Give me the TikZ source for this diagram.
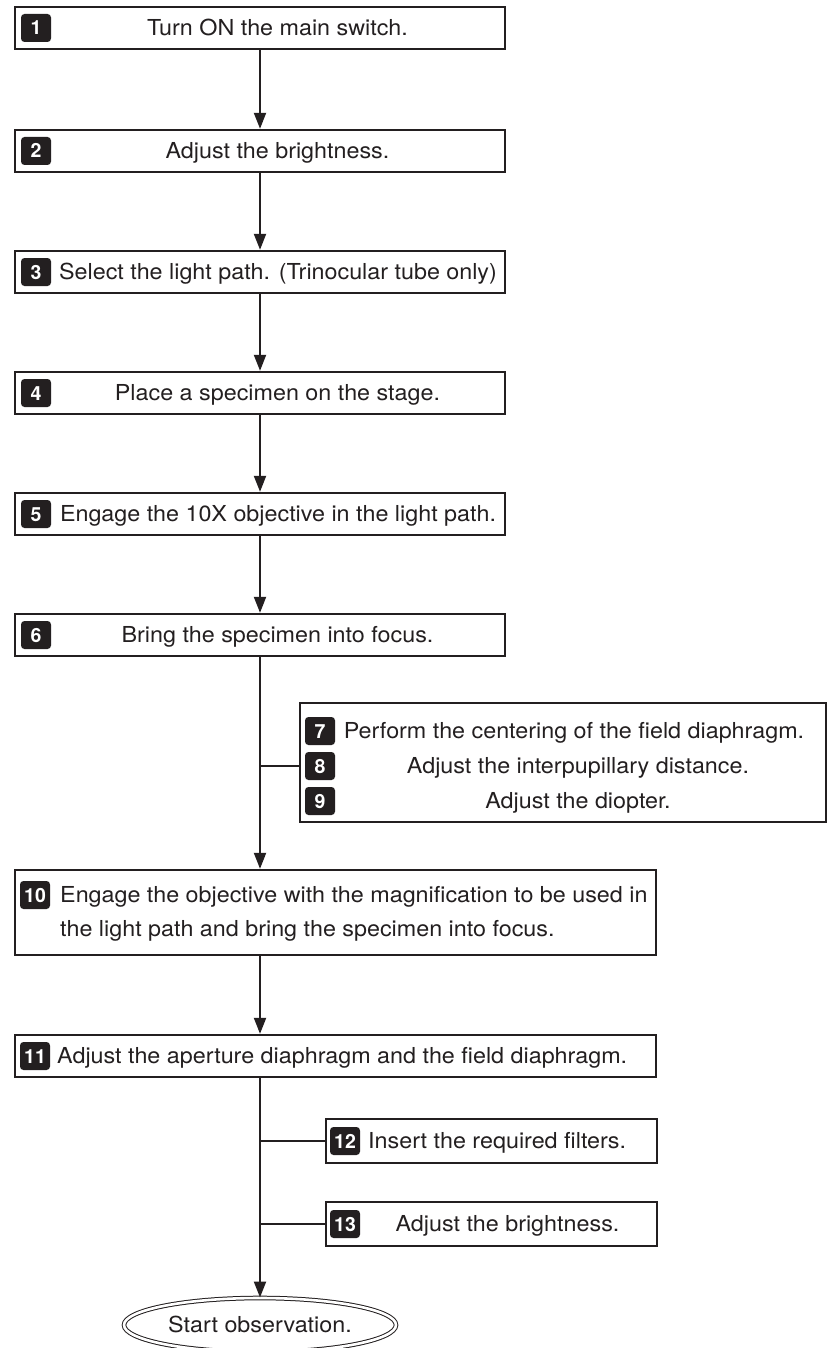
\documentclass[tikz,border=0pt]{standalone}
\usepackage{fontspec}
\setmainfont{TeX Gyre Heros}[FakeStretch=1.06]
\newfontfamily\badgefont{TeX Gyre Heros}
\usetikzlibrary{arrows.meta,shapes.geometric}
\definecolor{ink}{HTML}{231F20}
\begin{document}
\begin{tikzpicture}[x=1pt,y=-1pt,
  box/.style={draw=ink,line width=2.4pt,fill=white,minimum height=42pt,inner sep=0pt},
  badge/.style={fill=ink,rounded corners=3.5pt,text=white,minimum width=30pt,minimum height=28pt,inner sep=0pt,text height=14pt,text depth=0pt,font=\badgefont\fontsize{19.5}{19.5}\selectfont\bfseries},
  txt/.style={text=ink,inner sep=0pt,text height=15.8pt,text depth=0pt,font=\fontsize{22}{33}\selectfont},
  arr/.style={draw=ink,line width=2.2pt,-{Triangle[width=12pt,length=16pt]}},
  conn/.style={draw=ink,line width=2.2pt}]
\useasboundingbox (0,0) rectangle (828,1348);
\fill[white] (0,0) rectangle (828,1348);

% main boxes 1-6
\node[box,minimum width=490pt] (b1) at (260,28) {};
\node[badge] (n1) at (36,28) {1};
\node[txt] (t1) at (277.5,28) {Turn ON the main switch.};

\node[box,minimum width=490pt] (b2) at (260,151) {};
\node[badge] (n2) at (36,151) {2};
\node[txt] (t2) at (277.5,151) {Adjust the brightness.};

\node[box,minimum width=490pt] (b3) at (260,272) {};
\node[badge] (n3) at (36,272) {3};
\node[txt] (t3) at (278,272) {Select the light path. (Trinocular tube only)};

\node[box,minimum width=490pt] (b4) at (260,393) {};
\node[badge] (n4) at (36,393) {4};
\node[txt] (t4) at (277.5,393) {Place a specimen on the stage.};

\node[box,minimum width=490pt] (b5) at (260,514) {};
\node[badge] (n5) at (36,514) {5};
\node[txt] (t5) at (278,514) {Engage the 10X objective in the light path.};

\node[box,minimum width=490pt] (b6) at (260,635) {};
\node[badge] (n6) at (36,635) {6};
\node[txt] (t6) at (277.5,635) {Bring the specimen into focus.};

% side box 7-9
\node[box,minimum width=526pt,minimum height=119pt] (b79) at (563,762.5) {};
\node[badge] (n7) at (320,731) {7};
\node[txt] (t7) at (574,731) {Perform the centering of the field diaphragm.};
\node[badge] (n8) at (320,766) {8};
\node[txt] (t8) at (578,766) {Adjust the interpupillary distance.};
\node[badge] (n9) at (320,801) {9};
\node[txt] (t9) at (578,801) {Adjust the diopter.};

% box 10
\node[box,minimum width=641pt,minimum height=85pt] (b10) at (335.5,912.5) {};
\node[badge] (n10) at (35,895) {10};
\node[txt,anchor=west] (t10a) at (60,895) {Engage the objective with the magnification to be used in};
\node[txt,anchor=west] (t10b) at (60,929) {the light path and bring the specimen into focus.};

% box 11
\node[box,minimum width=641pt] (b11) at (335.5,1056) {};
\node[badge] (n11) at (35,1056) {11};
\node[txt,anchor=west] (t11) at (57,1056) {Adjust the aperture diaphragm and the field diaphragm.};

% boxes 12, 13
\node[box,minimum width=331pt,minimum height=44pt] (b12) at (491.5,1141) {};
\node[badge] (n12) at (345,1141) {12};
\node[txt,anchor=west] (t12) at (368,1141) {Insert the required filters.};

\node[box,minimum width=331pt,minimum height=44pt] (b13) at (491.5,1224) {};
\node[badge] (n13) at (345,1224) {13};
\node[txt] (t13) at (507.5,1224) {Adjust the brightness.};

% terminal
\node[ellipse,draw=ink,double,double distance=2.6pt,line width=1pt,minimum width=272pt,minimum height=54pt,inner sep=0pt,text=ink,text height=15.8pt,text depth=0pt,font=\fontsize{22}{24}\selectfont] (e) at (260,1325) {Start observation.};

% connectors
\draw[arr] (b1.south) -- (b2.north);
\draw[arr] (b2.south) -- (b3.north);
\draw[arr] (b3.south) -- (b4.north);
\draw[arr] (b4.south) -- (b5.north);
\draw[arr] (b5.south) -- (b6.north);
\draw[arr] (b6.south) -- (b6.south |- b10.north);
\draw[conn] (b6.south |- n8.west) -- (n8.west -| b79.west);
\draw[arr] (b10.south -| b1.south) -- (b11.north -| b1.south);
\draw[arr] (b11.south -| b1.south) -- (e.north);
\draw[conn] (b12.west -| b1.south) -- (b12.west);
\draw[conn] (b13.west -| b1.south) -- (b13.west);
\end{tikzpicture}
\end{document}
